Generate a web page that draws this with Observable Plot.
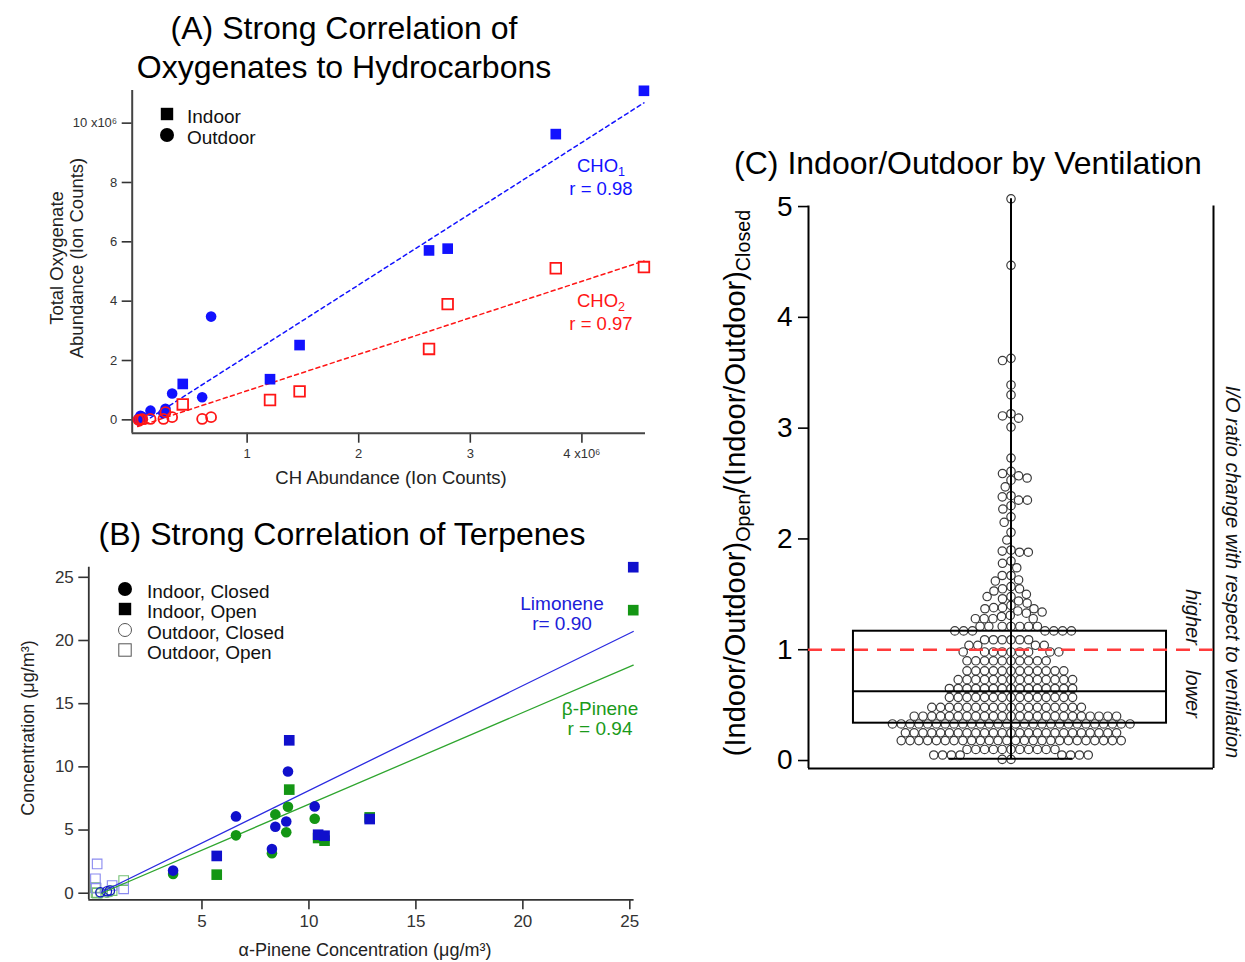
<!DOCTYPE html>
<html><head><meta charset="utf-8">
<script src="https://cdn.jsdelivr.net/npm/d3@7"></script>
<script src="https://cdn.jsdelivr.net/npm/@observablehq/plot@0.6"></script>
<style>
html,body{margin:0;padding:0;background:#fff;}
#page{position:relative;width:1245px;height:962px;overflow:hidden;font-family:'Liberation Sans',Arial,Helvetica,sans-serif;}
.chart{position:absolute;}
.chart svg{overflow:visible;}
.chart g[aria-label*="axis"]{stroke-width:1.6px;}
.t{position:absolute;white-space:nowrap;line-height:1;}
.t sub{font-size:0.68em;vertical-align:-0.3em;line-height:0;}
.sw{position:absolute;transform:translate(-50%,-50%);}
</style></head>
<body><div id="page"></div>
<script>
const FONT = "'Liberation Sans', Arial, Helvetica, sans-serif";

// ---------- Panel A data (ion counts, x10^6) ----------
const chIndoor      = [4.556, 3.766, 2.63, 2.797, 1.47, 1.205, 0.423];
const cho1Indoor    = [11.09, 9.63, 5.71, 5.77, 2.52, 1.37, 1.21];
const cho2Indoor    = [5.15, 5.11, 2.39, 3.90, 0.96, 0.67, 0.52];
const chOutdoor     = [0.677, 0.597, 0.328, 0.268, 0.25, 0.134, 0.044, 0.026, 0.06];
const cho1Outdoor   = [3.48, 0.76, 0.89, 0.37, 0.22, 0.31, 0.14, 0.04, 0.10];
const cho2Outdoor   = [0.09, 0.03, 0.09, 0.26, 0.03, 0.03, 0.01, 0.0, 0.02];
const cho1Fit = {slope: 2.40, intercept: -0.25, from: 0.02, to: 4.556};
const cho2Fit = {slope: 1.23, intercept: -0.25, from: 0.02, to: 4.556};
const aXTicks = [1, 2, 3, 4];
const aYTicks = [0, 2, 4, 6, 8, 10];

// ---------- Panel B data (µg/m3) ----------
const alphaIndoorClosed = [9.02, 6.59, 8.43, 8.94, 10.27, 8.27, 3.65];
const limIndoorClosed   = [9.63, 6.08, 5.26, 5.68, 6.87, 3.50, 1.79];
const betaIndoorClosed  = [6.84, 4.58, 6.24, 4.82, 5.89, 3.16, 1.53];
const alphaIndoorOpen   = [25.16, 9.08, 5.69, 12.84, 10.43, 10.73];
const limIndoorOpen     = [25.8, 12.1, 2.95, 5.87, 4.63, 4.55];
const betaIndoorOpen    = [22.4, 8.2, 1.47, 6.0, 4.37, 4.16];
const alphaOutdoorClosed = [0.25, 0.56, 0.70];
const limOutdoorClosed   = [0.08, 0.16, 0.22];
const betaOutdoorClosed  = [0.0, 0.03, 0.10];
const alphaOutdoorOpen  = [0.10, 0.02, 0.80, 1.34, 0.05];
const limOutdoorOpen    = [2.32, 1.14, 0.61, 0.35, 0.40];
const betaOutdoorOpen   = [0.0, 0.45, 0.21, 1.00, 0.05];
const limFit  = {slope: 0.83, intercept: -0.17, from: 0.3, to: 25.16};
const betaFit = {slope: 0.726, intercept: -0.22, from: 0.3, to: 25.16};
const bXTicks = [5, 10, 15, 20, 25];
const bYTicks = [0, 5, 10, 15, 20, 25];

// ---------- Panel C data ----------
const ioRatios = [
  5.07, 4.47, 3.63, 3.61, 3.39, 3.30, 3.13, 3.11, 3.09, 3.01,
  2.73, 2.61, 2.59, 2.57, 2.55, 2.53, 2.47, 2.39, 2.38, 2.35,
  2.35, 2.30, 2.27, 2.20, 2.15, 2.06, 1.99, 1.90, 1.89, 1.88,
  1.88, 1.80, 1.78, 1.74, 1.67, 1.67, 1.63, 1.62, 1.57, 1.55,
  1.55, 1.53, 1.50, 1.48, 1.48, 1.46, 1.44, 1.42, 1.40, 1.38,
  1.38, 1.37, 1.37, 1.35, 1.34, 1.33, 1.31, 1.30,
  1.28, 1.28, 1.28, 1.28,
  1.21, 1.21, 1.21, 1.21, 1.21, 1.21, 1.21,
  1.17, 1.17, 1.17, 1.17, 1.17, 1.17, 1.17,
  1.09, 1.09, 1.09, 1.09, 1.09, 1.09,
  1.04, 1.04, 1.04, 1.04,
  0.98, 0.98, 0.98, 0.98, 0.98, 0.98, 0.98, 0.98, 0.98,
  0.90, 0.90, 0.90, 0.90, 0.90, 0.90, 0.90, 0.90, 0.90, 0.90,
  0.81, 0.81, 0.81, 0.81, 0.81, 0.81, 0.81, 0.81, 0.81, 0.81, 0.81, 0.81,
  0.73, 0.73, 0.73, 0.73, 0.73, 0.73, 0.73, 0.73, 0.73, 0.73, 0.73, 0.73, 0.73, 0.73,
  0.65, 0.65, 0.65, 0.65, 0.65, 0.65, 0.65, 0.65, 0.65, 0.65, 0.65, 0.65, 0.65, 0.65, 0.65,
  0.57, 0.57, 0.57, 0.57, 0.57, 0.57, 0.57, 0.57, 0.57, 0.57, 0.57, 0.57, 0.57, 0.57, 0.57,
  0.48, 0.48, 0.48, 0.48, 0.48, 0.48, 0.48, 0.48, 0.48, 0.48, 0.48, 0.48, 0.48, 0.48, 0.48, 0.48, 0.48, 0.48,
  0.40, 0.40, 0.40, 0.40, 0.40, 0.40, 0.40, 0.40, 0.40, 0.40, 0.40, 0.40, 0.40, 0.40, 0.40, 0.40, 0.40, 0.40, 0.40, 0.40, 0.40, 0.40, 0.40, 0.40,
  0.33, 0.33, 0.33, 0.33, 0.33, 0.33, 0.33, 0.33, 0.33, 0.33, 0.33, 0.33, 0.33, 0.33, 0.33, 0.33, 0.33, 0.33, 0.33, 0.33, 0.33, 0.33, 0.33, 0.33, 0.33, 0.33, 0.33, 0.33,
  0.25, 0.25, 0.25, 0.25, 0.25, 0.25, 0.25, 0.25, 0.25, 0.25, 0.25, 0.25, 0.25, 0.25, 0.25, 0.25, 0.25, 0.25, 0.25, 0.25, 0.25, 0.25, 0.25, 0.25, 0.25,
  0.18, 0.18, 0.18, 0.18, 0.18, 0.18, 0.18, 0.18, 0.18, 0.18, 0.18, 0.18, 0.18, 0.18, 0.18, 0.18, 0.18, 0.18, 0.18, 0.18, 0.18, 0.18, 0.18, 0.18, 0.18, 0.18,
  0.10, 0.10, 0.10, 0.10, 0.10, 0.10, 0.10, 0.10, 0.10, 0.10, 0.10,
  0.05, 0.05, 0.05, 0.05, 0.05, 0.05, 0.05, 0.05,
  0.01, 0.01
];
const boxMin = 0.015, boxQ1 = 0.337, boxMedian = 0.625, boxQ3 = 1.167, boxMax = 5.07;
const refLine = [1.0];
const cYTicks = [0, 1, 2, 3, 4, 5];

// ---------- helpers ----------
const page = document.getElementById("page");
const zipXY = (xs, ys) => xs.map((x, i) => ({x, y: ys[i]}));
const fitPts = f => [f.from, f.to].map(x => ({x, y: f.intercept + f.slope * x}));
function place(node, left, top) {
  const d = document.createElement("div");
  d.className = "chart"; d.style.left = left + "px"; d.style.top = top + "px";
  d.appendChild(node); page.appendChild(d);
}
function txt(html, x, y, o = {}) {
  const d = document.createElement("div");
  d.className = "t"; d.innerHTML = html;
  const a = o.anchor || "middle";
  const tx = a === "start" ? "0" : a === "end" ? "-100%" : "-50%";
  d.style.left = x + "px"; d.style.top = y + "px";
  d.style.fontSize = (o.size || 18) + "px";
  d.style.color = o.color || "#000";
  if (o.italic) d.style.fontStyle = "italic";
  if (o.lh) { d.style.lineHeight = o.lh + "px"; d.style.textAlign = "center"; }
  d.style.transform = `translate(${tx},-50%)` + (o.rotate ? ` rotate(${o.rotate}deg)` : "");
  page.appendChild(d);
}
function swatch(shape, x, y, filled, color) {
  const d = document.createElement("div");
  d.className = "sw"; d.style.left = x + "px"; d.style.top = y + "px";
  const fill = filled ? color : "none";
  d.innerHTML = shape === "square"
    ? `<svg width="16" height="16"><rect x="1.8" y="1.8" width="12.4" height="12.4" fill="${fill}" stroke="${color}" stroke-width="${filled ? 0 : 1}"/></svg>`
    : `<svg width="16" height="16"><circle cx="8" cy="8" r="${filled ? 7 : 6.5}" fill="${fill}" stroke="${color}" stroke-width="${filled ? 0 : 1}"/></svg>`;
  page.appendChild(d);
}

// ---------- Panel A ----------
const A_BLUE = "#1212ff", A_RED = "#ff1616";
const aX = [-0.03, 4.57], aY = [-0.45, 11.1];
const plotA = Plot.plot({
  width: 660, height: 420,
  marginLeft: 131.7, marginRight: 15, marginTop: 10, marginBottom: 67.3,
  style: {fontFamily: FONT, fontSize: "13px", color: "#333", background: "transparent"},
  x: {domain: aX, ticks: aXTicks, tickSize: 10, tickPadding: 6, label: null,
      tickFormat: d => d === 4 ? "4 x10\u2076" : String(d)},
  y: {domain: aY, ticks: aYTicks, tickSize: 10, tickPadding: 5, label: null,
      tickFormat: d => d === 10 ? "10 x10\u2076" : String(d)},
  marks: [
    Plot.ruleX([aX[0]], {stroke: "#444", strokeWidth: 2}),
    Plot.ruleY([aY[0]], {stroke: "#444", strokeWidth: 2}),
    Plot.line(fitPts(cho1Fit), {x: "x", y: "y", stroke: A_BLUE, strokeWidth: 1.5, strokeDasharray: "4,3.5"}),
    Plot.line(fitPts(cho2Fit), {x: "x", y: "y", stroke: A_RED, strokeWidth: 1.5, strokeDasharray: "4,3.5"}),
    Plot.dot(zipXY(chIndoor, cho1Indoor), {x: "x", y: "y", symbol: "square", r: 6, fill: A_BLUE}),
    Plot.dot(zipXY(chOutdoor, cho1Outdoor), {x: "x", y: "y", symbol: "circle", r: 5.3, fill: A_BLUE}),
    Plot.dot(zipXY(chIndoor, cho2Indoor), {x: "x", y: "y", symbol: "square", r: 6, fill: "white", stroke: A_RED, strokeWidth: 1.8}),
    Plot.dot(zipXY(chOutdoor, cho2Outdoor), {x: "x", y: "y", symbol: "circle", r: 5, fill: "none", stroke: A_RED, strokeWidth: 1.8})
  ]
});
place(plotA, 0, 80);

// ---------- Panel B ----------
const B_BLUE = "#1010cc", B_GREEN = "#149614", B_LBLUE = "#8a8af0", B_LGREEN = "#74c074";
const bX = [-0.29, 25.2], bY = [-0.52, 25.8];
const plotB = Plot.plot({
  width: 660, height: 407,
  marginLeft: 88.3, marginRight: 26.4, marginTop: 11.7, marginBottom: 62.7,
  style: {fontFamily: FONT, fontSize: "17px", color: "#333", background: "transparent"},
  x: {domain: bX, ticks: bXTicks, tickSize: 10, tickPadding: 5, label: null},
  y: {domain: bY, ticks: bYTicks, tickSize: 10, tickPadding: 5, label: null},
  marks: [
    Plot.ruleX([bX[0]], {stroke: "#333", strokeWidth: 1.8}),
    Plot.ruleY([bY[0]], {stroke: "#333", strokeWidth: 1.8}),
    Plot.dot(zipXY(alphaOutdoorOpen, betaOutdoorOpen), {x: "x", y: "y", symbol: "square", r: 5.4, fill: "none", stroke: B_LGREEN, strokeWidth: 1.1}),
    Plot.dot(zipXY(alphaOutdoorOpen, limOutdoorOpen), {x: "x", y: "y", symbol: "square", r: 5.4, fill: "none", stroke: B_LBLUE, strokeWidth: 1.1}),
    Plot.dot(zipXY(alphaOutdoorClosed, betaOutdoorClosed), {x: "x", y: "y", r: 4.6, fill: "none", stroke: B_LGREEN, strokeWidth: 1.2}),
    Plot.dot(zipXY(alphaOutdoorClosed, limOutdoorClosed), {x: "x", y: "y", r: 4.6, fill: "none", stroke: B_BLUE, strokeWidth: 1.2}),
    Plot.line(fitPts(betaFit), {x: "x", y: "y", stroke: "#2ea52e", strokeWidth: 1.3}),
    Plot.line(fitPts(limFit), {x: "x", y: "y", stroke: "#2a2ae0", strokeWidth: 1.3}),
    Plot.dot(zipXY(alphaIndoorClosed, betaIndoorClosed), {x: "x", y: "y", r: 5.3, fill: B_GREEN}),
    Plot.dot(zipXY(alphaIndoorOpen, betaIndoorOpen), {x: "x", y: "y", symbol: "square", r: 6, fill: B_GREEN}),
    Plot.dot(zipXY(alphaIndoorClosed, limIndoorClosed), {x: "x", y: "y", r: 5.3, fill: B_BLUE}),
    Plot.dot(zipXY(alphaIndoorOpen, limIndoorOpen), {x: "x", y: "y", symbol: "square", r: 6, fill: B_BLUE})
  ]
});
place(plotB, 0, 555);

// ---------- Panel C ----------
const cX = [-1, 1], cY = [-0.072, 5.005];
const boxRow = [{min: boxMin, q1: boxQ1, median: boxMedian, q3: boxQ3, max: boxMax}];
const plotC = Plot.plot({
  width: 545, height: 600,
  marginLeft: 108, marginRight: 32, marginTop: 25.5, marginBottom: 12,
  style: {fontFamily: FONT, fontSize: "28px", color: "#000", background: "transparent"},
  x: {domain: cX, axis: null},
  y: {domain: cY, ticks: cYTicks, tickSize: 10, tickPadding: 6, label: null, tickFormat: d => String(d)},
  marks: [
    Plot.ruleX([cX[0]], {stroke: "#000", strokeWidth: 2}),
    Plot.ruleX([cX[1]], {stroke: "#000", strokeWidth: 2}),
    Plot.ruleY([cY[0]], {stroke: "#000", strokeWidth: 2}),
    Plot.dot(ioRatios, Plot.dodgeX({anchor: "middle", padding: 0.4}, {y: d => d, r: 4.2, fill: "none", stroke: "#3a3a3a", strokeWidth: 1.2})),
    Plot.rect(boxRow, {x1: () => -0.778, x2: () => 0.768, y1: "q1", y2: "q3", fill: "none", stroke: "#000", strokeWidth: 2}),
    Plot.ruleY(boxRow, {y: "median", x1: () => -0.778, x2: () => 0.768, stroke: "#000", strokeWidth: 2}),
    Plot.ruleX(boxRow, {x: () => 0, y1: "min", y2: "max", stroke: "#000", strokeWidth: 2}),
    Plot.ruleY(boxRow, {y: "min", x1: () => -0.306, x2: () => 0.306, stroke: "#000", strokeWidth: 2}),
    Plot.ruleY(refLine, {stroke: "#ff3b3b", strokeWidth: 2.6, strokeDasharray: "14,9"})
  ]
});
place(plotC, 700, 180);

// ---------- Titles & text ----------
txt("(A) Strong Correlation of", 344, 28, {size: 32});
txt("Oxygenates to Hydrocarbons", 344, 67, {size: 32});
txt("(B) Strong Correlation of Terpenes", 342, 534, {size: 32});
txt("(C) Indoor/Outdoor by Ventilation", 968, 163, {size: 32});

// A labels
txt("CH Abundance (Ion Counts)", 391, 478, {size: 18.5, color: "#222"});
txt("Total Oxygenate<br>Abundance (Ion Counts)", 67, 258, {size: 18.5, color: "#222", rotate: -90, lh: 20});
swatch("square", 167, 116, true, "#000");
swatch("circle", 167, 137, true, "#000");
txt("Indoor", 187, 116, {size: 19, anchor: "start", color: "#111"});
txt("Outdoor", 187, 137, {size: 19, anchor: "start", color: "#111"});
txt("CHO<sub>1</sub>", 601, 166, {size: 18.5, color: A_BLUE});
txt("r = 0.98", 601, 189, {size: 18.5, color: A_BLUE});
txt("CHO<sub>2</sub>", 601, 301, {size: 18.5, color: A_RED});
txt("r = 0.97", 601, 324, {size: 18.5, color: A_RED});

// B labels
txt("\u03b1-Pinene Concentration (\u03bcg/m\u00b3)", 365, 950, {size: 18, color: "#222"});
txt("Concentration (\u03bcg/m\u00b3)", 28, 728, {size: 18, color: "#222", rotate: -90});
swatch("circle", 125, 591, true, "#000");
swatch("square", 125, 611, true, "#000");
swatch("circle", 125, 632, false, "#555");
swatch("square", 125, 652, false, "#555");
txt("Indoor, Closed", 147, 591, {size: 19, anchor: "start", color: "#111"});
txt("Indoor, Open", 147, 611, {size: 19, anchor: "start", color: "#111"});
txt("Outdoor, Closed", 147, 632, {size: 19, anchor: "start", color: "#111"});
txt("Outdoor, Open", 147, 652, {size: 19, anchor: "start", color: "#111"});
txt("Limonene", 562, 603, {size: 19, color: "#2020d8"});
txt("r= 0.90", 562, 623, {size: 19, color: "#2020d8"});
txt("\u03b2-Pinene", 600, 708, {size: 19, color: "#1a9a1a"});
txt("r = 0.94", 600, 728, {size: 19, color: "#1a9a1a"});

// C labels
txt("(Indoor/Outdoor)<sub>Open</sub>/(Indoor/Outdoor)<sub>Closed</sub>", 735, 483, {size: 29, rotate: -90});
txt("I/O ratio change with respect to ventilation", 1233, 572, {size: 20, italic: true, rotate: 90, color: "#111"});
txt("higher", 1193, 617, {size: 20, italic: true, rotate: 90, color: "#111"});
txt("lower", 1193, 694, {size: 20, italic: true, rotate: 90, color: "#111"});
</script></body></html>
